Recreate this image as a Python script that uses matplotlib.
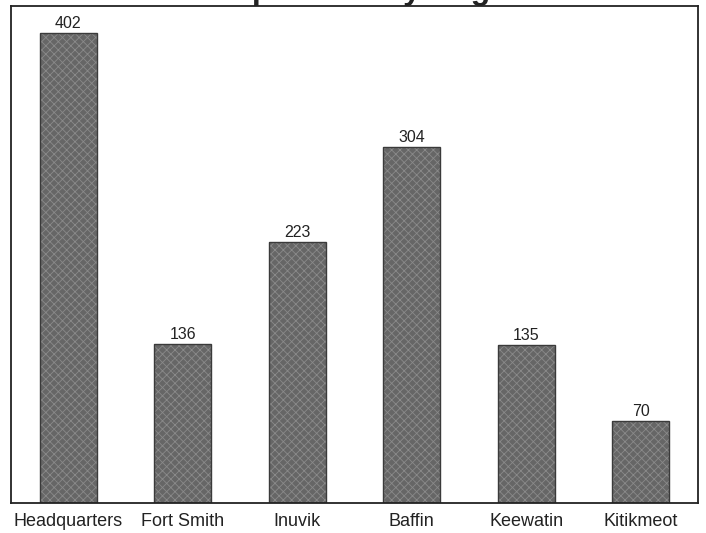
import matplotlib
matplotlib.use("Agg")
import matplotlib.pyplot as plt

regions = ["Headquarters", "Fort Smith", "Inuvik", "Baffin", "Keewatin", "Kitikmeot"]
values = [402, 136, 223, 304, 135, 70]
title = "Complement by Region"

plt.rcParams['font.family'] = ['Liberation Sans', 'DejaVu Sans']
plt.rcParams['hatch.linewidth'] = 0.6

fig = plt.figure(figsize=(7.06, 5.33), dpi=100)
ax = fig.add_axes([11/706, 30/533, 687/706, 497/533])

x = list(range(len(regions)))
ax.bar(x, values, width=0.5, color='#666666', edgecolor='#8a8a8a',
       hatch='xxxx', linewidth=0)
ax.bar(x, values, width=0.5, fill=False, edgecolor='#3a3a3a', linewidth=1.0)

for xi, v in zip(x, values):
    ax.annotate(str(v), (xi, v), xytext=(0, 1.5), textcoords='offset points',
                ha='center', va='bottom', fontsize=11.5, color='#222222')

ax.set_xlim(-0.5, len(regions) - 0.5)
ax.set_ylim(0, 425)
ax.set_xticks(x)
ax.set_xticklabels(regions, fontsize=13, color='#222222')
ax.tick_params(axis='x', length=0, pad=7)
ax.set_yticks([])
for s in ax.spines.values():
    s.set_linewidth(1.3)
    s.set_color('#222222')

# title is cut off by the top edge in the reference; only descenders show
fig.text(360/706, 1.0 + 1.5/533, title, ha='center', va='baseline',
         fontsize=23, fontweight='bold', color='#222222')

fig.savefig("out.png", dpi=100)
